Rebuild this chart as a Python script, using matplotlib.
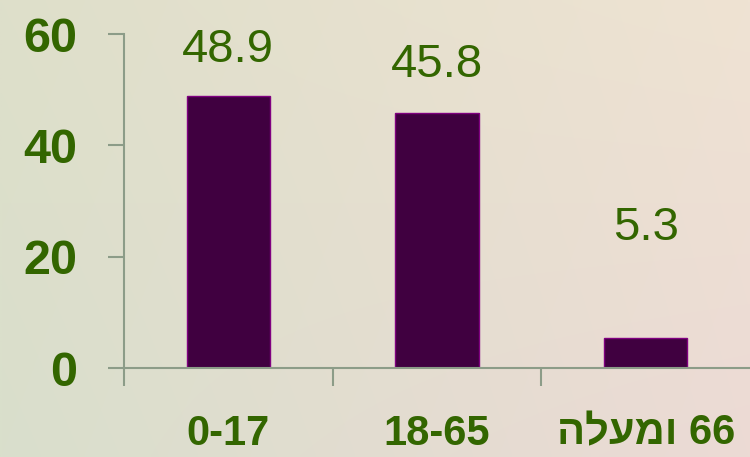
import numpy as np
import matplotlib
matplotlib.use("Agg")
import matplotlib.pyplot as plt
from matplotlib.colors import to_rgb

# ---- data ----
categories = ["0-17", "18-65", "הלעמו 66"]  # Hebrew "66 ומעלה" in visual order
values = [48.9, 45.8, 5.3]
value_labels = ["48.9", "45.8", "5.3"]
yticks = [0, 20, 40, 60]

# ---- layout / style ----
label_y = [57.2, 54.4, 25.1]  # label centre heights (layout)
W, H, DPI = 750, 457, 100
green = "#336600"
bar_fill = "#400040"
bar_edge = "#800080"
axis_col = "#8c9c88"

fig = plt.figure(figsize=(W / DPI, H / DPI), dpi=DPI)

# background gradient
bg = fig.add_axes([0, 0, 1, 1], zorder=0)
bg.set_axis_off()
tl, tr = np.array(to_rgb("#dedfca")), np.array(to_rgb("#efe3d3"))
bl, br = np.array(to_rgb("#d9dfcc")), np.array(to_rgb("#ecdad5"))
nx, ny = 200, 120
u = np.linspace(0, 1, nx)[None, :, None]
v = np.linspace(0, 1, ny)[:, None, None]
img = (1 - v) * ((1 - u) * tl + u * tr) + v * ((1 - u) * bl + u * br)
bg.imshow(img, aspect="auto", extent=[0, 1, 0, 1], interpolation="bilinear")
bg.set_xlim(0, 1)
bg.set_ylim(0, 1)

ax = fig.add_axes([124 / W, 89 / H, 1 - 124 / W, (368 - 34) / H], zorder=1)
ax.patch.set_alpha(0)

x = np.arange(len(categories)) + 0.5
ax.bar(x, values, width=0.40, color=bar_fill, edgecolor=bar_edge, linewidth=1.0, zorder=2)

for xi, ly, t in zip(x, label_y, value_labels):
    ax.text(xi, ly, t, ha="center", va="center", fontsize=34, color=green,
            family=["Liberation Sans", "DejaVu Sans"])

ax.set_xlim(0, 3)
ax.set_ylim(0, 60)

for s in ["top", "right"]:
    ax.spines[s].set_visible(False)
for s in ["left", "bottom"]:
    ax.spines[s].set_color(axis_col)
    ax.spines[s].set_linewidth(1.5)

ax.set_yticks(yticks)
ax.set_yticklabels([str(t) for t in yticks], fontsize=35, fontweight="bold", color=green,
                   family=["Liberation Sans", "DejaVu Sans"])
ax.tick_params(axis="y", length=11.5, width=1.5, color=axis_col, pad=22)

ax.set_xticks([0, 1, 2])
ax.set_xticklabels([])
ax.tick_params(axis="x", which="major", length=13, width=1.5, color=axis_col)
ax.set_xticks(x, minor=True)
ax.set_xticklabels(categories, minor=True, fontsize=30, fontweight="bold", color=green,
                   family=["Liberation Sans", "DejaVu Sans"])
ax.tick_params(axis="x", which="minor", length=0, pad=33)

fig.savefig("out.png", dpi=DPI)
